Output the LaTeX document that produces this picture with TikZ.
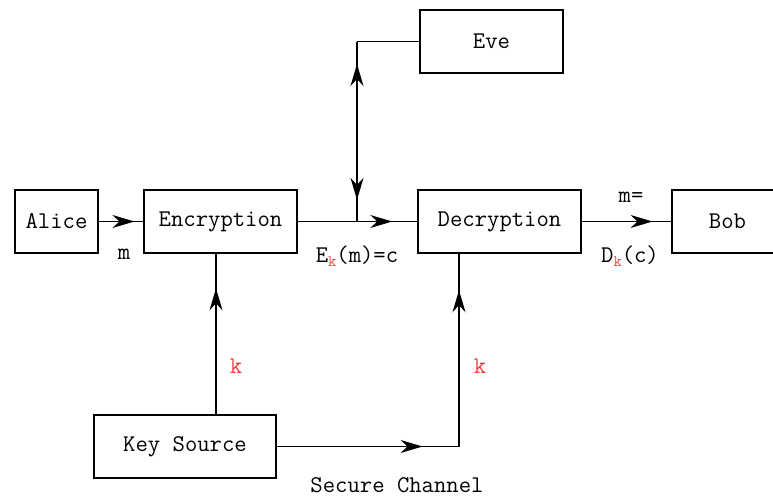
\documentclass[tikz,border=0pt]{standalone}
\usepackage{fontspec}
\usetikzlibrary{arrows.meta,decorations.markings}
\definecolor{kred}{RGB}{240,60,60}
\newcommand{\subk}{\raisebox{-4pt}{\fontsize{16}{16}\selectfont\color{kred}k}}
\begin{document}
\begin{tikzpicture}[x=1pt,y=-1pt,
  box/.style={draw, line width=1.2pt, minimum height=63pt, inner sep=0pt, font=\ttfamily\fontsize{24}{27}\selectfont},
  lbl/.style={font=\ttfamily\fontsize{24}{27}\selectfont, inner sep=0pt},
  redlbl/.style={lbl, text=kred},
  conn/.style={line width=1.2pt},
  mytip/.style={postaction={decorate}, decoration={markings, mark=at position #1 with {\arrow{Stealth[length=22pt,width=13pt,inset=7pt]}}}},
  twotips/.style 2 args={postaction={decorate}, decoration={markings,
     mark=at position #1 with {\arrowreversed{Stealth[length=22pt,width=13pt,inset=7pt]}},
     mark=at position #2 with {\arrow{Stealth[length=22pt,width=13pt,inset=7pt]}}}},
]
\useasboundingbox (0,0) rectangle (773,498);
\clip (0,0) rectangle (773,498);

\node[box, minimum width=83pt]  (alice) at (56.5,221.5) {Alice};
\node[box, minimum width=153pt] (enc)   at (220.5,221.5) {Encryption};
\node[box, minimum width=163pt] (dec)   at (499.5,221.5) {Decryption};
\node[box, minimum width=111pt] (bob)   at (727.5,221.5) {Bob};
\node[box, minimum width=143pt] (eve)   at (491.5,41.5) {Eve};
\node[box, minimum width=182pt] (key)   at (185,446.5) {Key Source};

\coordinate (encx) at (216,0);
\coordinate (decx) at (459,0);
\coordinate (j) at (357,221.5);
\coordinate (c) at (357,41.5);

\draw[conn, mytip=0.8] (alice.east) -- (enc.west);
\draw[conn, mytip=0.79] (enc.east) -- (dec.west);
\draw[conn, mytip=0.79] (dec.east) -- (bob.west);
\draw[conn] (eve.west) -- (c);
\draw[conn, twotips={0.125}{0.88}] (c) -- (j);
\draw[conn, mytip=0.784] (key.north -| encx) -- (enc.south -| encx);
\draw[conn, mytip=0.8] (key.east) -- (key.east -| decx);
\draw[conn, mytip=0.81] (key.east -| decx) -- (dec.south -| decx);

\node[lbl] (lm) at (124,254) {m};
\node[lbl] (lek) at (357,256) {E\subk(m)=c};
\node[lbl] (lmeq) at (631,197) {m=};
\node[lbl] (ldk) at (630,256) {D\subk(c)};
\node[redlbl] (k1) at (236,366) {k};
\node[redlbl] (k2) at (480,366) {k};
\node[lbl] (sc) at (397,485) {Secure Channel};
\end{tikzpicture}
\end{document}
